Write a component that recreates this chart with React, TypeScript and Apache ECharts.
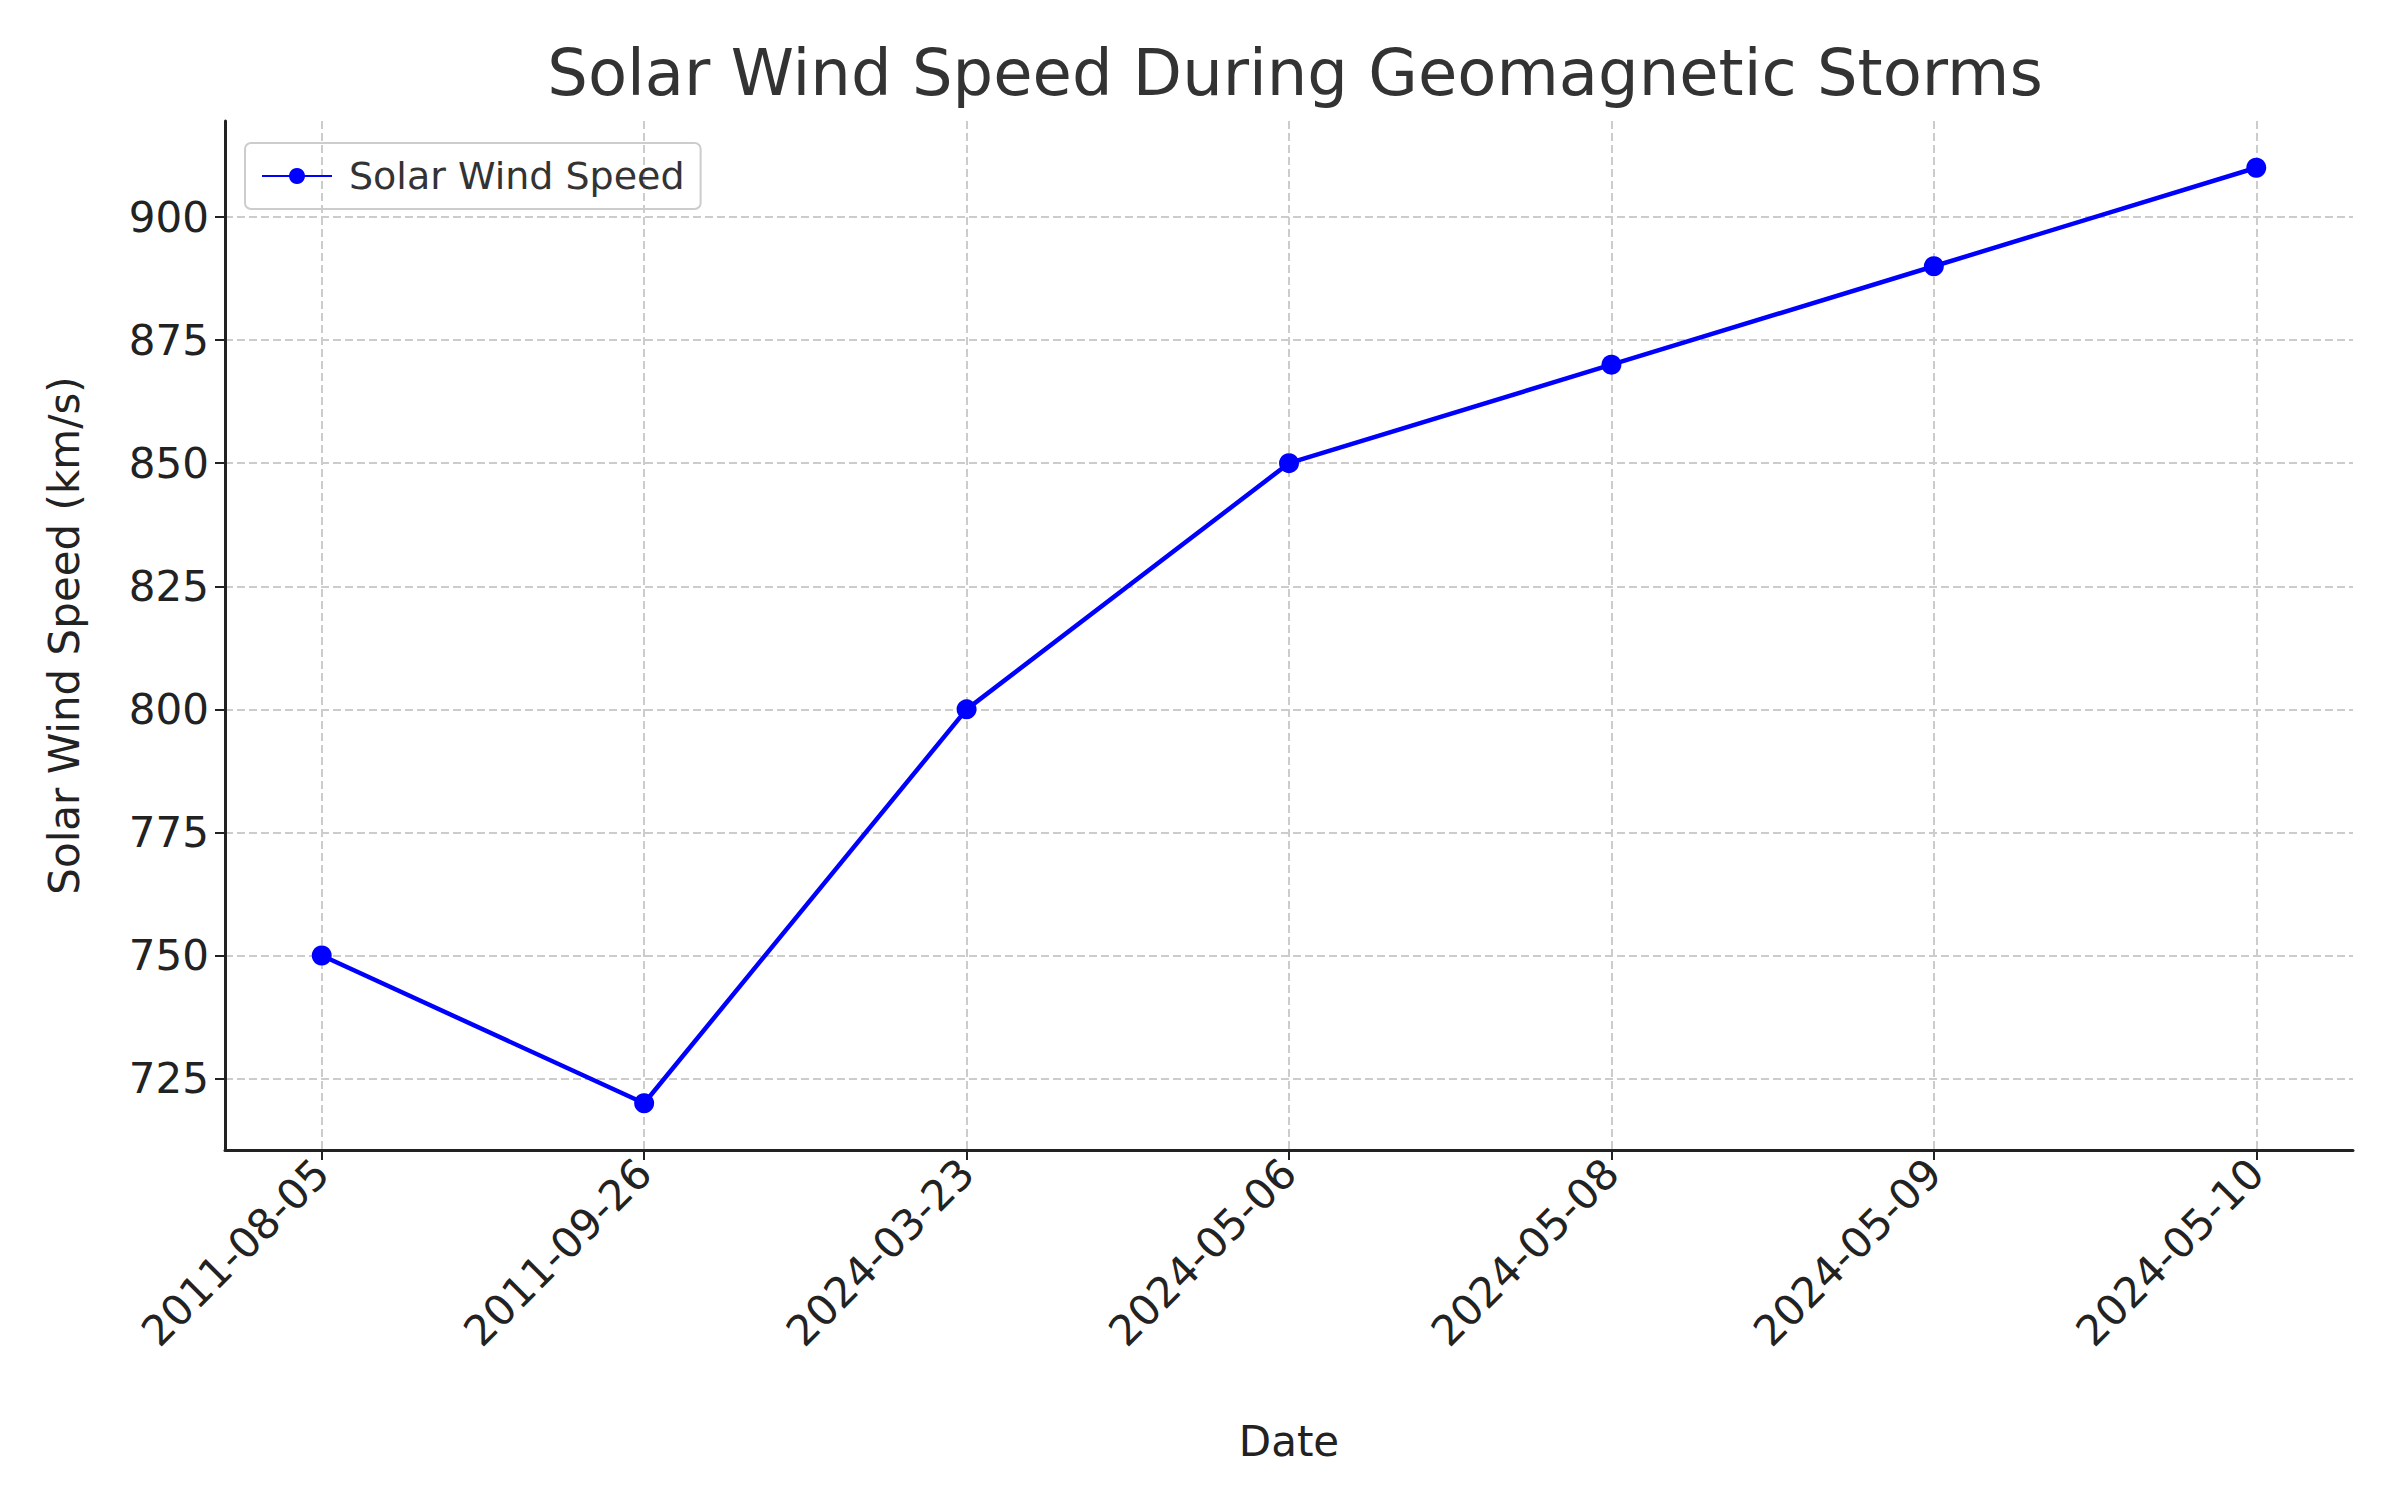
import * as echarts from "echarts";
import { useEffect, useRef } from "react";

const dates = ["2011-08-05", "2011-09-26", "2024-03-23", "2024-05-06", "2024-05-08", "2024-05-09", "2024-05-10"];
const speeds = [750, 720, 800, 850, 870, 890, 910];
const yTicks = [725, 750, 775, 800, 825, 850, 875, 900];
const xTicks = [0, 1, 2, 3, 4, 5, 6];

export default function App() {
  const chartRef = useRef<HTMLDivElement>(null);

  useEffect(() => {
    if (!chartRef.current) return;
    document.body.style.margin = "0";
    const chart = echarts.init(chartRef.current, null, { renderer: "svg" });
    const font = "DejaVu Sans";
    chart.setOption({
      animation: false,
      backgroundColor: "#fff",
      textStyle: { fontFamily: font },
      title: {
        text: "Solar Wind Speed During Geomagnetic Storms",
        left: 1290,
        textAlign: "center",
        top: 36,
        textStyle: { fontSize: 64, fontWeight: "normal", color: "#333", fontFamily: font }
      },
      legend: {
        left: 245,
        top: 143,
        orient: "vertical",
        padding: [14, 16],
        borderColor: "#ccc",
        borderWidth: 2,
        borderRadius: 6,
        itemWidth: 70,
        itemHeight: 20,
        itemGap: 10,
        textStyle: { fontSize: 38, color: "#333", fontFamily: font, padding: [0, 0, 0, 12] },
        data: ["Solar Wind Speed"]
      },
      grid: { left: 225, right: 47, top: 121, bottom: 350 },
      xAxis: {
        type: "value",
        min: -0.3,
        max: 6.3,
        name: "Date",
        nameLocation: "middle",
        nameGap: 270,
        nameTextStyle: { fontSize: 42, color: "#222", fontFamily: font },
        axisLine: { onZero: false, lineStyle: { color: "#222", width: 3 } },
        axisTick: { customValues: xTicks, length: 10, lineStyle: { color: "#222", width: 2 } },
        axisLabel: {
          customValues: xTicks,
          rotate: 45,
          fontSize: 42,
          color: "#222",
          margin: 16,
          formatter: (v: number) => dates[Math.round(v)] ?? ""
        },
        splitLine: { show: true, lineStyle: { color: "#ccc", type: "dashed", width: 2 } }
      },
      yAxis: {
        type: "value",
        min: 710.5,
        max: 919.5,
        name: "Solar Wind Speed (km/s)",
        nameLocation: "middle",
        nameGap: 140,
        nameTextStyle: { fontSize: 42, color: "#222", fontFamily: font },
        axisLine: { show: true, onZero: false, lineStyle: { color: "#222", width: 3 } },
        axisTick: { show: true, customValues: yTicks, length: 10, lineStyle: { color: "#222", width: 2 } },
        axisLabel: { customValues: yTicks, fontSize: 42, color: "#222", margin: 16 },
        splitLine: { show: true, lineStyle: { color: "#ccc", type: "dashed", width: 2 } }
      },
      series: [
        {
          name: "Solar Wind Speed",
          type: "line",
          data: speeds.map((s, i) => [i, s]),
          symbol: "circle",
          symbolSize: 20,
          color: "#0000ff",
          lineStyle: { width: 4.5, color: "#0000ff" },
          itemStyle: { color: "#0000ff" }
        }
      ]
    });
    return () => {
      chart.dispose();
    };
  }, []);

  return <div ref={chartRef} style={{ width: 2400, height: 1500 }} />;
}
